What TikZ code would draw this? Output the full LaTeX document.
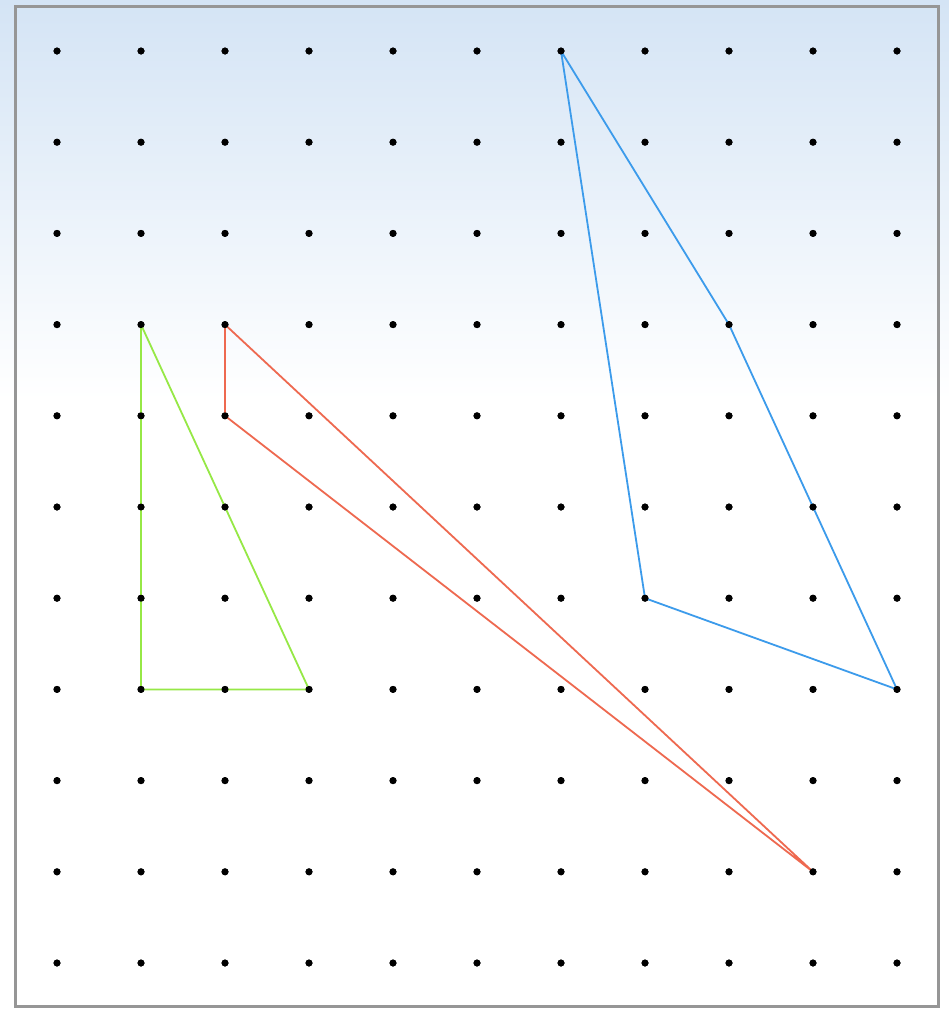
\documentclass[tikz,border=0pt]{standalone}
\begin{document}
\begin{tikzpicture}[x=1pt,y=-1pt,
  dotstyle/.style={circle,fill=black,inner sep=0pt,minimum size=7pt},
  edge/.style={line width=1.8pt,line join=round,line cap=round}]
\definecolor{bluetop}{RGB}{212,228,245}
\definecolor{blueline}{RGB}{60,155,235}
\definecolor{redline}{RGB}{238,105,80}
\definecolor{greenline}{RGB}{150,232,70}
\definecolor{framegray}{RGB}{150,150,150}
\useasboundingbox (0,0) rectangle (949,1009);
\fill[white] (0,0) rectangle (949,1009);
\shade[top color=bluetop,bottom color=white] (0,0) rectangle (949,400);
\draw[framegray,line width=3pt] (15,6) rectangle (938,1006);
\foreach \i in {0,...,10} {
  \foreach \j in {0,...,10} {
    \node[dotstyle] (p-\i-\j) at ({57+84*\i},{51+91.2*\j}) {};
  }
}
% green triangle
\draw[edge,greenline] (p-1-3.center) -- (p-1-7.center) -- (p-3-7.center) -- cycle;
% red triangle
\draw[edge,redline] (p-2-3.center) -- (p-2-4.center) -- (p-9-9.center) -- cycle;
% blue quadrilateral
\draw[edge,blueline] (p-6-0.center) -- (p-7-6.center) -- (p-10-7.center) -- (p-8-3.center) -- cycle;
\foreach \i in {0,...,10} {
  \foreach \j in {0,...,10} {
    \fill (p-\i-\j) circle (3.5pt);
  }
}
\end{tikzpicture}
\end{document}
